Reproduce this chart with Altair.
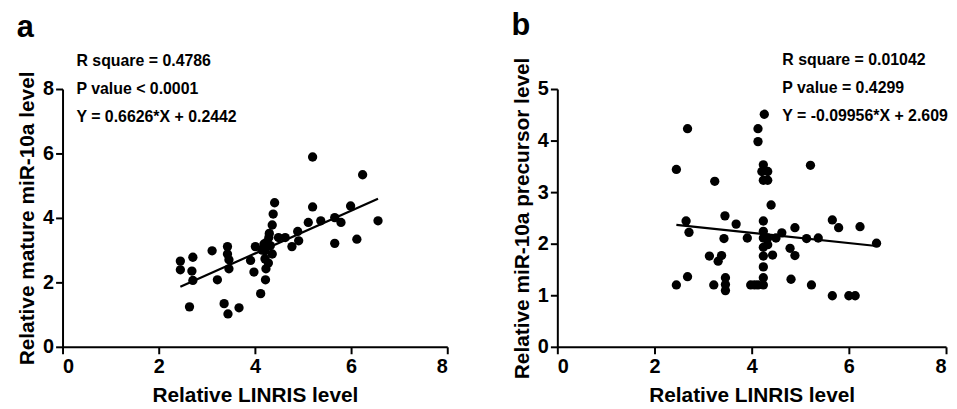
import altair as alt
import pandas as pd

# ---------------- data ----------------
a_x = [2.45, 2.45, 2.71, 2.69, 2.71, 2.64, 3.11, 3.22, 3.43, 3.43, 3.46, 3.46,
       3.36, 3.44, 3.67, 3.91, 3.98, 4.01, 4.12, 4.22, 4.23, 4.21, 4.21, 4.29,
       4.36, 4.38, 4.41, 4.36, 4.19, 4.32, 4.49, 4.63, 4.77, 4.89, 4.91, 5.11,
       5.20, 5.20, 5.37, 5.66, 5.66, 5.79, 5.99, 6.12, 6.24, 6.56, 4.15, 4.25,
       4.30, 4.28]
a_y = [2.66, 2.39, 2.78, 2.35, 2.06, 1.24, 2.98, 2.08, 3.11, 2.88, 2.70, 2.42,
       1.34, 1.02, 1.21, 2.68, 2.32, 3.11, 1.65, 2.08, 2.42, 2.73, 2.98, 3.39,
       3.78, 4.12, 4.47, 2.88, 3.19, 3.14, 3.39, 3.39, 3.11, 3.58, 3.29, 3.86,
       4.34, 5.89, 3.91, 4.01, 3.21, 3.86, 4.37, 3.34, 5.34, 3.91, 3.00, 3.25,
       3.52, 2.60]

b_x = [2.45, 2.45, 2.68, 2.65, 2.71, 2.68, 3.13, 3.24, 3.22, 3.31, 3.38, 3.45,
       3.43, 3.46, 3.46, 3.46, 3.68, 3.91, 3.98, 4.13, 4.13, 4.26, 4.24, 4.21,
       4.33, 4.24, 4.33, 4.40, 4.24, 4.24, 4.24, 4.24, 4.24, 4.24, 4.24, 4.13,
       4.06, 4.33, 4.43, 4.50, 4.62, 4.79, 4.89, 4.89, 4.81, 5.13, 5.21, 5.23,
       5.37, 5.66, 5.79, 5.66, 6.00, 6.13, 6.23, 6.57, 4.33, 4.24]
b_y = [3.44, 1.20, 4.23, 2.44, 2.22, 1.36, 1.76, 3.21, 1.20, 1.66, 1.77, 2.54,
       2.10, 1.34, 1.21, 1.09, 2.38, 2.11, 1.20, 4.23, 3.98, 4.51, 3.53, 3.40,
       3.40, 3.23, 3.23, 2.75, 2.44, 2.11, 1.93, 1.76, 1.55, 1.34, 1.20, 1.20,
       1.20, 1.98, 1.78, 2.11, 2.21, 1.91, 1.77, 2.31, 1.31, 2.10, 3.52, 1.20,
       2.11, 2.46, 2.31, 0.99, 0.99, 0.99, 2.33, 2.01, 2.11, 2.24]

a_fit = (0.6626, 0.2442)
b_fit = (-0.09956, 2.609)

a_text = ["R square = 0.4786", "P value < 0.0001", "Y = 0.6626*X + 0.2442"]
b_text = ["R square = 0.01042", "P value = 0.4299", "Y = -0.09956*X + 2.609"]

x_ticks = [0, 2, 4, 6, 8]
a_y_ticks = [0, 2, 4, 6, 8]
b_y_ticks = [0, 1, 2, 3, 4, 5]

# annotation anchor positions (data units)
a_text_x, a_text_y = 0.29, [8.86, 8.0, 7.14]
b_text_x, b_text_y = 4.63, [5.56, 5.02, 4.48]

FONT = "Liberation Sans"


def panel(xs, ys, fit, texts, tx, tys, ydom, yticks, ytitle, letter, w):
    pts = pd.DataFrame({"x": xs, "y": ys})
    xscale = alt.Scale(domain=[0, 8], nice=False, zero=False)
    yscale = alt.Scale(domain=ydom, nice=False, zero=False)
    xaxis = alt.Axis(values=x_ticks, title="Relative LINRIS level", format="d")
    yaxis = alt.Axis(values=yticks, title=ytitle, format="d")

    dots = alt.Chart(pts).mark_circle(size=88, color="black", opacity=1).encode(
        x=alt.X("x:Q", scale=xscale, axis=xaxis),
        y=alt.Y("y:Q", scale=yscale, axis=yaxis),
    )
    slope, icpt = fit
    line = (
        alt.Chart(pd.DataFrame({"x": [min(xs), max(xs)]}))
        .transform_calculate(y=f"{slope}*datum.x + {icpt}")
        .mark_line(color="black", strokeWidth=2.2)
        .encode(x=alt.X("x:Q", scale=xscale), y=alt.Y("y:Q", scale=yscale))
    )
    txt = (
        alt.Chart(pd.DataFrame({"x": [tx] * len(texts), "y": tys, "t": texts}))
        .mark_text(align="left", baseline="middle", fontSize=16,
                   fontWeight="bold", font=FONT, color="black")
        .encode(x=alt.X("x:Q", scale=xscale), y=alt.Y("y:Q", scale=yscale),
                text="t:N")
    )
    return alt.layer(dots, line, txt).properties(
        width=w, height=260,
        title=alt.TitleParams(letter, anchor="start", frame="bounds",
                              fontSize=31, fontWeight="bold", font=FONT,
                              color="black", offset=10),
    )


pa = panel(a_x, a_y, a_fit, a_text, a_text_x, a_text_y, [0, 8], a_y_ticks,
           "Relative mature miR-10a level", "a", 388)
pb = panel(b_x, b_y, b_fit, b_text, b_text_x, b_text_y, [0, 5], b_y_ticks,
           "Relative miR-10a precursor level", "b", 392)

chart = (
    alt.hconcat(pa, pb, spacing=111, bounds="flush")
    .properties(padding={"left": 8, "top": 0, "right": 0, "bottom": 0})
    .configure_view(stroke=None)
    .configure_axis(
        domainColor="black", domainWidth=2, tickColor="black", tickWidth=2,
        tickSize=7, grid=False,
        labelFont=FONT, labelFontSize=20, labelFontWeight="bold",
        labelColor="black", labelPadding=2,
        titleFont=FONT, titleFontSize=21, titleFontWeight="bold",
        titleColor="black",
    )
    .configure_axisX(labelPadding=3, titlePadding=8)
    .configure_axisY(titlePadding=5)
)

chart.save("out.html", embed_options={"renderer": "svg", "actions": False})
